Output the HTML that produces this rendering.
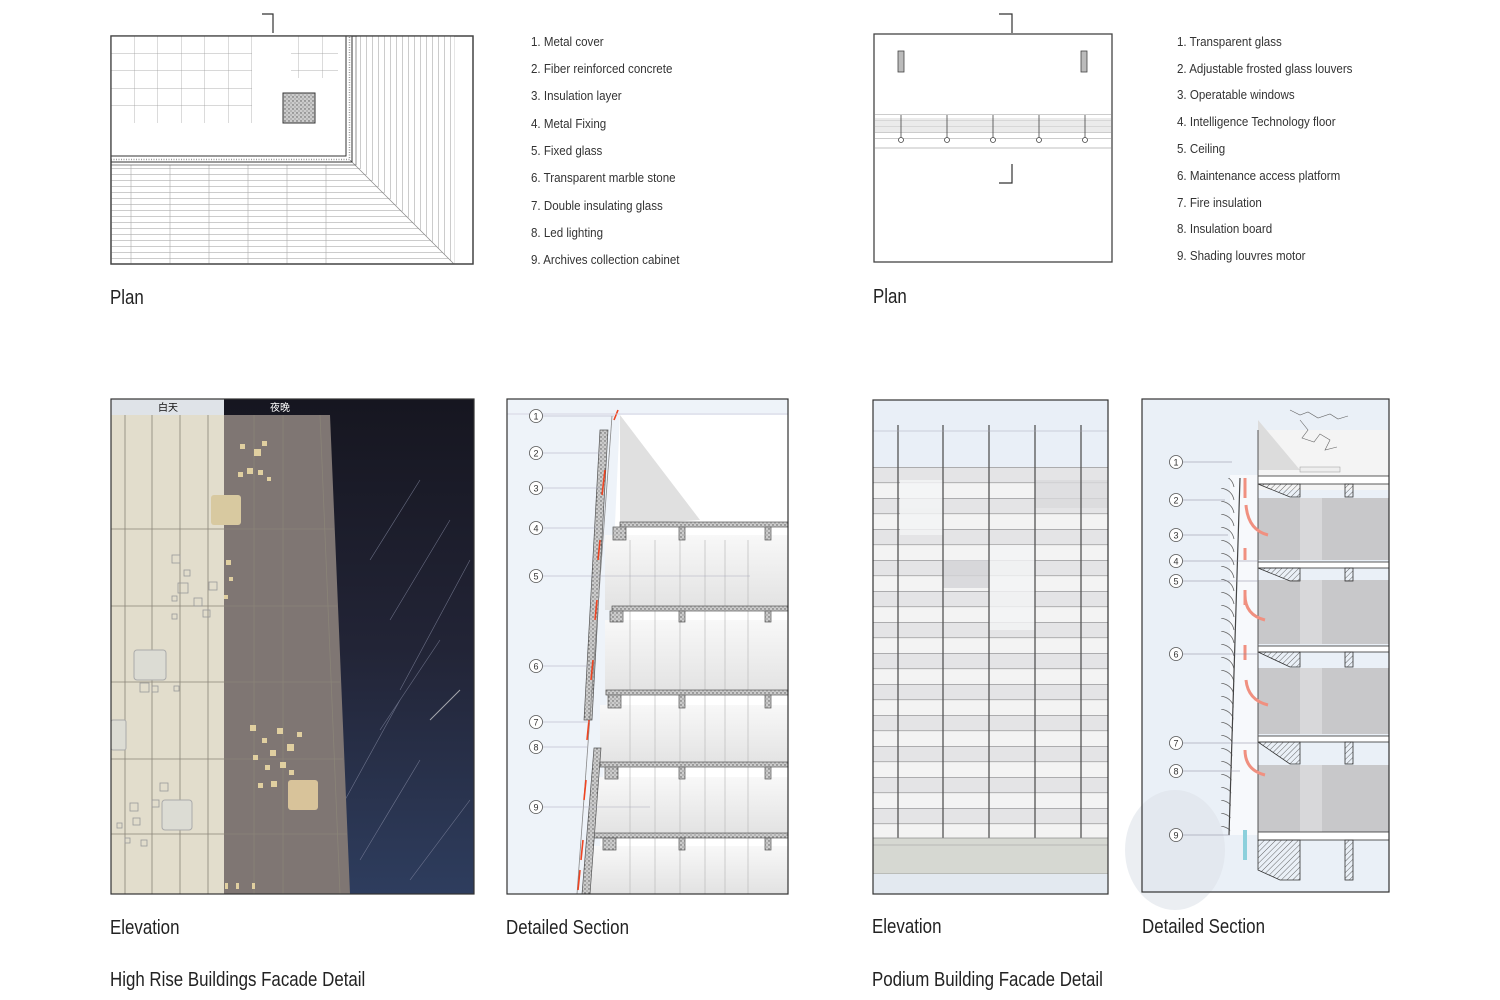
<!DOCTYPE html>
<html><head><meta charset="utf-8"><style>
html,body{margin:0;padding:0;background:#fff;}
svg{display:block}
text{font-family:"Liberation Sans","Noto Sans CJK SC",sans-serif;fill:#333}
.lg{font-size:13px}
.cap{font-size:20px;fill:#222}
</style></head><body>
<svg width="1500" height="1000" viewBox="0 0 1500 1000" xmlns="http://www.w3.org/2000/svg">
<defs>
<pattern id="hl6" width="10" height="6" patternUnits="userSpaceOnUse"><line x1="0" y1="0.5" x2="10" y2="0.5" stroke="#aaa" stroke-width="0.6"/></pattern>
<pattern id="vl6" width="6" height="10" patternUnits="userSpaceOnUse"><line x1="0.5" y1="0" x2="0.5" y2="10" stroke="#aaa" stroke-width="0.6"/></pattern>
<pattern id="grid1" width="23.5" height="17.5" patternUnits="userSpaceOnUse" x="111" y="36"><path d="M23.5 0V17.5H0" fill="none" stroke="#999" stroke-width="0.7"/></pattern>
<pattern id="dots" width="4" height="4" patternUnits="userSpaceOnUse"><rect width="4" height="4" fill="#ccc"/><circle cx="1" cy="1" r="0.7" fill="#555"/><circle cx="3" cy="3" r="0.6" fill="#777"/></pattern>
<pattern id="hatch" width="4" height="4" patternUnits="userSpaceOnUse" patternTransform="rotate(45)"><line x1="0" y1="0" x2="0" y2="4" stroke="#444" stroke-width="0.8"/></pattern>
<pattern id="bands" width="10" height="31" patternUnits="userSpaceOnUse" y="467"><rect width="10" height="15.5" fill="#e4e4e6"/><rect y="15.5" width="10" height="15.5" fill="#f3f3f3"/><line x1="0" y1="0.3" x2="10" y2="0.3" stroke="#888" stroke-width="0.6"/><line x1="0" y1="15.8" x2="10" y2="15.8" stroke="#888" stroke-width="0.6"/></pattern>
<pattern id="louv" width="20" height="13" patternUnits="userSpaceOnUse" y="488"><path d="M1 0 Q12 2 14 12" fill="none" stroke="#666" stroke-width="0.8"/></pattern>
<linearGradient id="night" x1="0" y1="0" x2="0" y2="1"><stop offset="0" stop-color="#161620"/><stop offset="0.5" stop-color="#222436"/><stop offset="1" stop-color="#2e3d5e"/></linearGradient>
<linearGradient id="room" x1="0" y1="0" x2="0" y2="1"><stop offset="0" stop-color="#f8f8f8"/><stop offset="1" stop-color="#e2e2e2"/></linearGradient>
</defs>

<!-- PLAN 1 -->
<rect x="111" y="36" width="362" height="228" fill="#fff" stroke="#444" stroke-width="1.3"/>
<rect x="111" y="165" width="343" height="99" fill="url(#hl6)"/>
<g stroke="#aaa" stroke-width="0.6"><line x1="131" y1="165" x2="131" y2="264"/><line x1="170" y1="165" x2="170" y2="264"/><line x1="209" y1="165" x2="209" y2="264"/><line x1="248" y1="165" x2="248" y2="264"/><line x1="287" y1="165" x2="287" y2="264"/><line x1="326" y1="165" x2="326" y2="264"/><line x1="454" y1="36" x2="454" y2="264"/></g>
<polygon points="357,36 454,36 454,264 357,165" fill="#fff"/>
<polygon points="357,36 454,36 454,264 357,165" fill="url(#vl6)"/>
<line x1="350" y1="160" x2="454" y2="264" stroke="#888" stroke-width="0.7"/>
<rect x="111" y="36" width="241" height="124" fill="#fff"/>
<rect x="111" y="36" width="141" height="87" fill="url(#grid1)"/>
<rect x="291" y="36" width="47" height="42" fill="url(#grid1)"/>
<rect x="283" y="93" width="32" height="30" fill="url(#dots)" stroke="#333"/>
<path d="M111 156 H346 V36" fill="none" stroke="#333" stroke-width="1"/>
<path d="M111 159.5 H349.5 V36" fill="none" stroke="#999" stroke-width="1.5" stroke-dasharray="1 1.5"/>
<path d="M111 162 H352 V36" fill="none" stroke="#333" stroke-width="1"/>
<path d="M111 165 H356 V36" fill="none" stroke="#666" stroke-width="0.7"/>
<rect x="111" y="36" width="362" height="228" fill="none" stroke="#444" stroke-width="1.3"/>
<path d="M262 14 H273 V33" fill="none" stroke="#333" stroke-width="1.2"/>
<g transform="translate(531,0) scale(0.89,1)"><text x="0" y="46" class="lg">1. Metal cover</text><text x="0" y="73" class="lg">2. Fiber reinforced concrete</text><text x="0" y="100" class="lg">3. Insulation layer</text><text x="0" y="128" class="lg">4. Metal Fixing</text><text x="0" y="155" class="lg">5. Fixed glass</text><text x="0" y="182" class="lg">6. Transparent marble stone</text><text x="0" y="210" class="lg">7. Double insulating glass</text><text x="0" y="237" class="lg">8. Led lighting</text><text x="0" y="264" class="lg">9. Archives collection cabinet</text></g>
<text transform="translate(110,304) scale(0.845,1)" class="cap">Plan</text>

<!-- PLAN 2 -->
<rect x="874" y="34" width="238" height="228" fill="#fff" stroke="#444" stroke-width="1.3"/>
<rect x="875" y="113" width="236" height="26" fill="url(#hl6)"/>
<rect x="875" y="118" width="236" height="14" fill="#ddd" opacity="0.6"/>
<line x1="875" y1="148" x2="1111" y2="148" stroke="#aaa" stroke-width="0.8"/>
<g fill="#666" stroke="#444" stroke-width="0.8">
<rect x="898" y="51" width="6" height="21" fill="#bbb"/><rect x="1081" y="51" width="6" height="21" fill="#bbb"/>
<line x1="901" y1="115" x2="901" y2="140"/><line x1="947" y1="115" x2="947" y2="140"/><line x1="993" y1="115" x2="993" y2="140"/><line x1="1039" y1="115" x2="1039" y2="140"/><line x1="1085" y1="115" x2="1085" y2="140"/>
<circle cx="901" cy="140" r="2.5" fill="#fff"/><circle cx="947" cy="140" r="2.5" fill="#fff"/><circle cx="993" cy="140" r="2.5" fill="#fff"/><circle cx="1039" cy="140" r="2.5" fill="#fff"/><circle cx="1085" cy="140" r="2.5" fill="#fff"/>
</g>
<path d="M999 14 H1012 V33 M999 183 H1012 V164" fill="none" stroke="#333" stroke-width="1.2"/>
<g transform="translate(1177,0) scale(0.89,1)"><text x="0" y="46" class="lg">1. Transparent glass</text><text x="0" y="73" class="lg">2. Adjustable frosted glass louvers</text><text x="0" y="99" class="lg">3. Operatable windows</text><text x="0" y="126" class="lg">4. Intelligence Technology floor</text><text x="0" y="153" class="lg">5. Ceiling</text><text x="0" y="180" class="lg">6. Maintenance access platform</text><text x="0" y="207" class="lg">7. Fire insulation</text><text x="0" y="233" class="lg">8. Insulation board</text><text x="0" y="260" class="lg">9. Shading louvres motor</text></g>
<text transform="translate(873,303) scale(0.845,1)" class="cap">Plan</text>

<!-- ELEVATION 1 -->
<rect x="111" y="399" width="363" height="495" fill="url(#night)"/>
<g stroke="#8a8fa8" stroke-width="0.6" opacity="0.7"><line x1="420" y1="480" x2="370" y2="560"/><line x1="450" y1="520" x2="390" y2="620"/><line x1="470" y1="560" x2="400" y2="690"/><line x1="440" y1="640" x2="380" y2="730"/><line x1="460" y1="690" x2="430" y2="720" stroke="#ddd" stroke-width="1"/><line x1="420" y1="760" x2="360" y2="860"/><line x1="470" y1="800" x2="410" y2="880"/><line x1="400" y1="700" x2="345" y2="800"/></g>
<polygon points="224,415 330,415 350,894 224,894" fill="#7f7673"/>
<rect x="111" y="415" width="113" height="479" fill="#e2ddcc"/>
<rect x="111" y="399" width="113" height="16" fill="#dfe3e8"/>
<text x="158" y="411" style="font-size:10px;fill:#111;font-family:'Noto Sans CJK SC',sans-serif">白天</text>
<text x="270" y="411" style="font-size:10px;fill:#fff;font-family:'Noto Sans CJK SC',sans-serif">夜晚</text>
<g stroke="#8a8478" stroke-width="0.8"><line x1="125" y1="415" x2="125" y2="894"/><line x1="152" y1="415" x2="152" y2="894"/><line x1="180" y1="415" x2="180" y2="894"/><line x1="208" y1="415" x2="208" y2="894"/><line x1="254" y1="415" x2="254" y2="894"/><line x1="283" y1="415" x2="283" y2="894"/><line x1="320" y1="415" x2="340" y2="894"/>
<line x1="111" y1="529" x2="334" y2="529"/><line x1="111" y1="606" x2="337" y2="606"/><line x1="111" y1="682" x2="340" y2="682"/><line x1="111" y1="759" x2="343" y2="759"/><line x1="111" y1="834" x2="347" y2="834"/></g>
<g fill="#e0cfa0"><rect x="240" y="444" width="5" height="5"/><rect x="254" y="449" width="7" height="7"/><rect x="262" y="441" width="5" height="5"/><rect x="247" y="468" width="6" height="6"/><rect x="258" y="470" width="5" height="5"/><rect x="238" y="472" width="5" height="5"/><rect x="267" y="477" width="4" height="4"/><rect x="211" y="495" width="30" height="30" rx="3" fill="#d8c9a0"/><rect x="226" y="560" width="5" height="5"/><rect x="229" y="577" width="4" height="4"/><rect x="224" y="595" width="4" height="4"/><rect x="250" y="725" width="6" height="6"/><rect x="262" y="738" width="5" height="5"/><rect x="277" y="728" width="6" height="6"/><rect x="287" y="744" width="7" height="7"/><rect x="297" y="732" width="5" height="5"/><rect x="270" y="750" width="6" height="6"/><rect x="253" y="755" width="5" height="5"/><rect x="265" y="765" width="5" height="5"/><rect x="280" y="762" width="6" height="6"/><rect x="289" y="770" width="5" height="5"/><rect x="258" y="783" width="5" height="5"/><rect x="271" y="781" width="6" height="6"/><rect x="288" y="780" width="30" height="30" rx="3" fill="#d8c39a"/><rect x="225" y="883" width="3" height="6"/><rect x="236" y="883" width="3" height="6"/><rect x="252" y="883" width="3" height="6"/></g>
<g fill="none" stroke="#999" stroke-width="0.8"><rect x="172" y="555" width="8" height="8"/><rect x="178" y="583" width="10" height="10"/><rect x="184" y="570" width="6" height="6"/><rect x="194" y="598" width="8" height="8"/><rect x="209" y="582" width="8" height="8"/><rect x="172" y="596" width="5" height="5"/><rect x="203" y="610" width="7" height="7"/><rect x="172" y="614" width="5" height="5"/><rect x="140" y="683" width="9" height="9"/><rect x="152" y="686" width="6" height="6"/><rect x="174" y="686" width="5" height="5"/><rect x="160" y="783" width="8" height="8"/><rect x="152" y="800" width="7" height="7"/><rect x="130" y="803" width="8" height="8"/><rect x="133" y="818" width="7" height="7"/><rect x="117" y="823" width="5" height="5"/><rect x="141" y="840" width="6" height="6"/><rect x="125" y="838" width="5" height="5"/></g>
<g fill="#dcdcd4" stroke="#aaa"><rect x="134" y="650" width="32" height="30" rx="3"/><rect x="162" y="800" width="30" height="30" rx="3"/><rect x="111" y="720" width="15" height="30" rx="2"/></g>
<rect x="111" y="399" width="363" height="495" fill="none" stroke="#333" stroke-width="1.2"/>
<text transform="translate(110,934) scale(0.845,1)" class="cap">Elevation</text>

<!-- SECTION 1 -->
<rect x="507" y="399" width="281" height="495" fill="#eef3f9"/>
<polygon points="598,894 620,415 788,415 788,894" fill="#fff"/>
<polygon points="620,415 700,520 620,525" fill="#e0e0e0"/>
<g>
<rect x="605" y="535" width="183" height="75" fill="url(#room)"/><rect x="605" y="620" width="183" height="75" fill="url(#room)"/><rect x="600" y="705" width="188" height="62" fill="url(#room)"/><rect x="595" y="777" width="193" height="58" fill="url(#room)"/><rect x="590" y="846" width="198" height="48" fill="url(#room)"/>
</g>
<g stroke="#bbb" stroke-width="0.7"><line x1="630" y1="540" x2="630" y2="894"/><line x1="655" y1="540" x2="655" y2="894"/><line x1="680" y1="540" x2="680" y2="894"/><line x1="705" y1="540" x2="705" y2="894"/><line x1="725" y1="540" x2="725" y2="894"/><line x1="748" y1="540" x2="748" y2="894"/></g>
<g fill="url(#dots)" stroke="#555" stroke-width="0.7">
<rect x="620" y="522" width="168" height="5"/><rect x="612" y="606" width="176" height="5"/><rect x="606" y="690" width="182" height="5"/><rect x="600" y="762" width="188" height="5"/><rect x="594" y="833" width="194" height="5"/>
<rect x="613" y="527" width="13" height="13"/><rect x="679" y="527" width="6" height="13"/><rect x="765" y="527" width="6" height="13"/>
<rect x="610" y="611" width="13" height="11"/><rect x="679" y="611" width="6" height="11"/><rect x="765" y="611" width="6" height="11"/>
<rect x="608" y="695" width="13" height="13"/><rect x="679" y="695" width="6" height="13"/><rect x="765" y="695" width="6" height="13"/>
<rect x="605" y="767" width="13" height="12"/><rect x="679" y="767" width="6" height="12"/><rect x="765" y="767" width="6" height="12"/>
<rect x="603" y="838" width="13" height="12"/><rect x="679" y="838" width="6" height="12"/><rect x="765" y="838" width="6" height="12"/>
<polygon points="600,430 608,430 592,720 584,720"/>
<polygon points="594,748 601,748 590,894 582,894"/>
</g>
<line x1="612" y1="416" x2="577" y2="894" stroke="#888" stroke-width="0.8"/>
<path d="M618 410 L614 420 M605 470 l-3 25 M600 540 l-2 20 M597 600 l-2 20 M593 660 l-2 20 M589 720 l-2 20 M586 780 l-2 20 M583 840 l-2 20 M580 870 l-2 20" stroke="#ee4422" stroke-width="1.6"/>
<line x1="507" y1="414" x2="788" y2="414" stroke="#ccd" stroke-width="0.8"/>
<g fill="#fff" stroke="#555" stroke-width="0.8">
<circle cx="536" cy="416" r="6.5"/><circle cx="536" cy="453" r="6.5"/><circle cx="536" cy="488" r="6.5"/><circle cx="536" cy="528" r="6.5"/><circle cx="536" cy="576" r="6.5"/><circle cx="536" cy="666" r="6.5"/><circle cx="536" cy="722" r="6.5"/><circle cx="536" cy="747" r="6.5"/><circle cx="536" cy="807" r="6.5"/></g>
<g stroke="#aab" stroke-width="0.6"><line x1="543" y1="416" x2="614" y2="416"/><line x1="543" y1="453" x2="602" y2="453"/><line x1="543" y1="488" x2="600" y2="488"/><line x1="543" y1="528" x2="598" y2="528"/><line x1="543" y1="576" x2="750" y2="576"/><line x1="543" y1="666" x2="590" y2="666"/><line x1="543" y1="722" x2="590" y2="722"/><line x1="543" y1="747" x2="588" y2="747"/><line x1="543" y1="807" x2="650" y2="807"/></g>
<g style="font-size:9px;fill:#333" text-anchor="middle"><text x="536" y="419.5">1</text><text x="536" y="456.5">2</text><text x="536" y="491.5">3</text><text x="536" y="531.5">4</text><text x="536" y="579.5">5</text><text x="536" y="669.5">6</text><text x="536" y="725.5">7</text><text x="536" y="750.5">8</text><text x="536" y="810.5">9</text></g>
<rect x="507" y="399" width="281" height="495" fill="none" stroke="#333" stroke-width="1.2"/>
<text transform="translate(506,934) scale(0.845,1)" class="cap">Detailed Section</text>

<!-- ELEVATION 2 -->
<rect x="873" y="400" width="235" height="494" fill="#e9eff7"/>
<rect x="873" y="467" width="235" height="371" fill="url(#bands)"/>
<g fill="#f4f5f6" opacity="0.8"><rect x="900" y="480" width="43" height="55"/><rect x="989" y="545" width="46" height="85"/><rect x="1035" y="480" width="73" height="28" fill="#d9d9dc"/><rect x="943" y="560" width="46" height="28" fill="#d4d4d8"/></g>
<g stroke="#555" stroke-width="1.3"><line x1="898" y1="425" x2="898" y2="838"/><line x1="943" y1="425" x2="943" y2="838"/><line x1="989" y1="425" x2="989" y2="838"/><line x1="1035" y1="425" x2="1035" y2="838"/><line x1="1081" y1="425" x2="1081" y2="838"/></g>
<line x1="873" y1="431" x2="1108" y2="431" stroke="#aab" stroke-width="0.6"/>
<rect x="873" y="838" width="235" height="36" fill="#d6d8d2" stroke="#888" stroke-width="0.7"/>
<line x1="873" y1="845" x2="1108" y2="845" stroke="#999" stroke-width="0.6"/>
<rect x="873" y="874" width="235" height="20" fill="#e3e9f0"/>
<rect x="873" y="400" width="235" height="494" fill="none" stroke="#333" stroke-width="1.2"/>
<text transform="translate(872,933) scale(0.845,1)" class="cap">Elevation</text>

<!-- SECTION 2 -->
<rect x="1142" y="399" width="247" height="493" fill="#eaf0f7"/>
<ellipse cx="1175" cy="850" rx="50" ry="60" fill="#dde2e9" opacity="0.6"/>
<rect x="1258" y="430" width="131" height="60" fill="#f4f4f4"/>
<polygon points="1258,420 1258,470 1300,470" fill="#dcdcdc"/>
<g fill="#c8c8ca"><rect x="1258" y="498" width="131" height="62"/><rect x="1258" y="580" width="131" height="64"/><rect x="1258" y="668" width="131" height="66"/><rect x="1258" y="765" width="131" height="67"/></g>
<g fill="#d8d8da"><rect x="1300" y="498" width="22" height="62"/><rect x="1300" y="580" width="22" height="64"/><rect x="1300" y="668" width="22" height="66"/><rect x="1300" y="765" width="22" height="67"/></g>
<g fill="#fff" stroke="#333" stroke-width="0.8">
<rect x="1258" y="476" width="131" height="8"/><rect x="1258" y="562" width="131" height="6"/><rect x="1258" y="646" width="131" height="6"/><rect x="1258" y="736" width="131" height="6"/><rect x="1258" y="832" width="131" height="8"/>
<polygon points="1258,484 1300,484 1300,497 1290,497" fill="url(#hatch)"/><rect x="1345" y="484" width="8" height="13" fill="url(#hatch)"/>
<polygon points="1258,568 1300,568 1300,581 1290,581" fill="url(#hatch)"/><rect x="1345" y="568" width="8" height="13" fill="url(#hatch)"/>
<polygon points="1258,652 1300,652 1300,667 1290,667" fill="url(#hatch)"/><rect x="1345" y="652" width="8" height="15" fill="url(#hatch)"/>
<polygon points="1258,742 1300,742 1300,764 1290,764" fill="url(#hatch)"/><rect x="1345" y="742" width="8" height="22" fill="url(#hatch)"/>
<polygon points="1258,840 1300,840 1300,880 1280,880 1258,870" fill="url(#hatch)"/><rect x="1345" y="840" width="8" height="40" fill="url(#hatch)"/>
</g>
<rect x="1230" y="475" width="28" height="360" fill="#f7f9fc"/>
<polygon points="1218,478 1240,478 1230,835 1218,835" fill="url(#louv)"/>
<line x1="1240" y1="478" x2="1229" y2="835" stroke="#444" stroke-width="1.2"/>
<line x1="1258" y1="430" x2="1258" y2="840" stroke="#555" stroke-width="1"/>
<g fill="none" stroke="#f09080" stroke-width="3"><path d="M1245 498 v-20"/><path d="M1268 535 q-20 -5 -22 -30"/><path d="M1245 560 v-12"/><path d="M1245 605 v-15"/><path d="M1265 620 q-20 -5 -20 -25"/><path d="M1268 705 q-20 -5 -22 -25"/><path d="M1245 660 v-15"/><path d="M1265 775 q-20 -5 -20 -25"/></g>
<path d="M1245 860 v-30" stroke="#8cd0dc" stroke-width="4"/>
<g fill="none" stroke="#666" stroke-width="0.6"><path d="M1290 410 l10 5 l8 -3 l10 6 l12 -4 l8 5 l10 -3 M1300 420 l8 10 l-6 8 l12 4 l6 -8 l10 6 l-5 10 l12 -3"/></g>
<rect x="1300" y="467" width="40" height="5" fill="#eee" stroke="#999" stroke-width="0.5"/>
<g fill="#fff" stroke="#555" stroke-width="0.8">
<circle cx="1176" cy="462" r="6.5"/><circle cx="1176" cy="500" r="6.5"/><circle cx="1176" cy="535" r="6.5"/><circle cx="1176" cy="561" r="6.5"/><circle cx="1176" cy="581" r="6.5"/><circle cx="1176" cy="654" r="6.5"/><circle cx="1176" cy="743" r="6.5"/><circle cx="1176" cy="771" r="6.5"/><circle cx="1176" cy="835" r="6.5"/></g>
<g stroke="#889" stroke-width="0.6"><line x1="1183" y1="462" x2="1232" y2="462"/><line x1="1183" y1="500" x2="1225" y2="500"/><line x1="1183" y1="535" x2="1228" y2="535"/><line x1="1183" y1="561" x2="1258" y2="561"/><line x1="1183" y1="581" x2="1258" y2="581"/><line x1="1183" y1="654" x2="1258" y2="654"/><line x1="1183" y1="743" x2="1258" y2="743"/><line x1="1183" y1="771" x2="1240" y2="771"/><line x1="1183" y1="835" x2="1230" y2="835"/></g>
<g style="font-size:9px;fill:#333" text-anchor="middle"><text x="1176" y="465.5">1</text><text x="1176" y="503.5">2</text><text x="1176" y="538.5">3</text><text x="1176" y="564.5">4</text><text x="1176" y="584.5">5</text><text x="1176" y="657.5">6</text><text x="1176" y="746.5">7</text><text x="1176" y="774.5">8</text><text x="1176" y="838.5">9</text></g>
<rect x="1142" y="399" width="247" height="493" fill="none" stroke="#333" stroke-width="1.2"/>
<text transform="translate(1142,933) scale(0.845,1)" class="cap">Detailed Section</text>

<text transform="translate(110,986) scale(0.845,1)" class="cap">High Rise Buildings Facade Detail</text>
<text transform="translate(872,986) scale(0.845,1)" class="cap">Podium Building Facade Detail</text>
</svg>
</body></html>
